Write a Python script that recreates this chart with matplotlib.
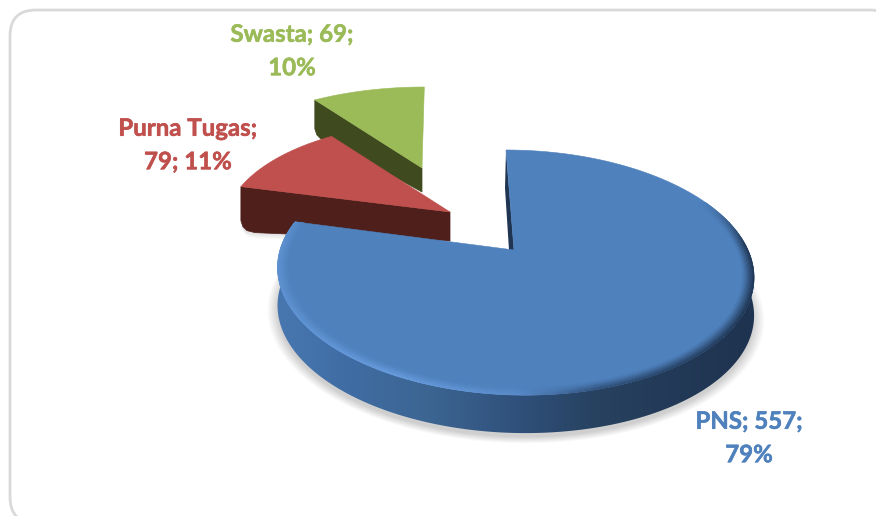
import numpy as np
import matplotlib
matplotlib.use('Agg')
import matplotlib.pyplot as plt
import matplotlib.patheffects as pe
from matplotlib.collections import PolyCollection
from matplotlib.colors import to_rgb
from matplotlib.patches import FancyBboxPatch, Polygon

categories = ['PNS', 'Purna Tugas', 'Swasta']
values = [557, 79, 69]
label_formats = ['{c}; {v};\n{p}%', '{c};\n{v}; {p}%', '{c}; {v};\n{p}%']

top_colors = ['#4f81bd', '#c0504d', '#9bbb59']
wall_colors = ['#1f3552', '#4e1f1b', '#3f4a1f']
# apex position, x scale, y scale, shear, inner depth, outer depth
placing = [(514, 250, 1.0, 1.0, 0.08, 38, 38),
           (450, 212, 0.955, 0.90, 0.08, 29, 45),
           (422, 168, 0.93, 0.81, -0.025, 24, 40)]
label_pos = [(749, 438), (188, 145), (292, 51)]

RX, A, B = 234, 118.4, 0.184

fig = plt.figure(figsize=(8.76, 5.16), dpi=100)
ax = fig.add_axes([0, 0, 1, 1])
ax.set_xlim(0, 876)
ax.set_ylim(516, 0)
ax.axis('off')

# chart frame runs off the right and bottom edge
ax.add_patch(FancyBboxPatch((10, 10), 886, 513, boxstyle='round,pad=0,rounding_size=26',
                            fc='white', ec='#d9d9d9', lw=2))


def project(theta, r, place):
    x0, y0, sx, sy, shear, _, _ = place
    u, v = r * np.sin(theta), r * np.cos(theta)
    den = 1 + B * v
    dy = -A * v / den
    dx = RX * u / den + shear * dy
    return x0 + sx * dx, y0 + sy * dy


def side_color(x):
    stops = [278, 350, 430, 520, 600, 750]
    cols = np.array([to_rgb(c) for c in ['#4877b0', '#3f6ca3', '#3c6591', '#2f507a',
                                         '#27415f', '#1e3350']])
    return np.array([np.interp(x, stops, cols[:, i]) for i in range(3)])


def rim_color(x):
    stops = [277, 400, 520, 600, 750]
    cols = np.array([to_rgb(c) for c in ['#5f92d2', '#6a9ee0', '#5a8ccb', '#2f4f78', '#1f3552']])
    return np.array([np.interp(x, stops, cols[:, i]) for i in range(3)])


fracs = np.cumsum([0] + values) / sum(values)
angles = fracs * 2 * np.pi

# soft shadow of the big slice
t = np.linspace(angles[0], angles[1], 200)
x, y = project(t, 1, placing[0])
xa, ya, depth = placing[0][0], placing[0][1], placing[0][6]
for k in range(8):
    s = 1.0 + 0.006 * k
    ax.add_patch(Polygon(np.c_[xa + (np.r_[xa, x] - xa) * s,
                               ya + depth + 4 + (np.r_[ya, y] - ya) * s],
                         fc='black', ec='none', alpha=0.022))

# back to front
for i in [2, 1, 0]:
    place = placing[i]
    xa, ya, _, _, _, d_in, d_out = place
    t = np.linspace(angles[i], angles[i + 1], 240)
    x, y = project(t, 1, place)

    if i > 0:
        # cut wall facing the viewer, outer corner rounded at the foot
        x1, y1 = project(angles[i], 1, place)
        wall = [(x1, y1), (xa, ya), (xa, ya + d_in), (x1 + 14, y1 + d_out + 1),
                (x1 + 6, y1 + d_out - 1), (x1 + 2, y1 + d_out - 5), (x1, y1 + d_out - 11)]
        if i == 1:
            for k in range(5):
                ax.add_patch(Polygon(np.array(wall) + (-1 + k * 0.5, 2 + k),
                                     fc='black', ec='none', alpha=0.02))
        ax.add_patch(Polygon(wall, fc=wall_colors[i], ec=wall_colors[i], lw=0.5))
    else:
        x2, y2 = project(angles[0], 1, place)
        ax.add_patch(Polygon([(x2, y2), (xa, ya), (xa - 5, ya), (x2 - 1, y2 + d_in)],
                             fc=wall_colors[0], ec='none'))
        # outer cylinder side, colour runs along x
        front = np.cos(t) < 0.35
        side = np.r_[np.c_[x[front], y[front]], np.c_[x[front], y[front] + d_out][::-1]]
        clip = Polygon(side, fc='none', ec='none', transform=ax.transData)
        ax.add_patch(clip)
        xs = np.linspace(270, 760, 400)
        grad = side_color(xs).T[np.newaxis, :, :]
        im = ax.imshow(grad, extent=(270, 760, 480, 200), aspect='auto', interpolation='bilinear', zorder=1)
        im.set_clip_path(clip)
        ax.set_xlim(0, 876)
        ax.set_ylim(516, 0)

    # flat top
    ax.add_patch(Polygon(np.c_[np.r_[xa, x], np.r_[ya, y]], fc=top_colors[i], ec=top_colors[i], lw=0.4, zorder=2))

    if i == 0:
        # bevel along the front rim
        radii = np.linspace(1, 0.955, 10)
        quads, cols = [], []
        top = np.array(to_rgb(top_colors[0]))
        for k in range(len(radii) - 1):
            xo, yo = project(t, radii[k], place)
            xi, yi = project(t, radii[k + 1], place)
            blend = k / (len(radii) - 1)
            for j in range(len(t) - 1):
                w = np.clip((0.45 - np.cos(t[j])) / 0.4, 0, 1) * (1 - blend)
                if w <= 0:
                    continue
                quads.append([(xo[j], yo[j]), (xo[j + 1], yo[j + 1]), (xi[j + 1], yi[j + 1]), (xi[j], yi[j])])
                cols.append(top * (1 - w) + rim_color(xo[j]) * w)
        ax.add_collection(PolyCollection(quads, facecolors=cols, edgecolors=cols, linewidths=0.4, zorder=3))

# data labels
for i, cat in enumerate(categories):
    pct = round(100 * values[i] / sum(values))
    txt = label_formats[i].format(c=cat, v=values[i], p=pct)
    ax.text(label_pos[i][0], label_pos[i][1], txt, color=top_colors[i], family='Lato',
            weight='bold', fontsize=17.3, ha='center', va='center', linespacing=1.55, zorder=5,
            path_effects=[pe.withStroke(linewidth=0.4, foreground=top_colors[i])])

fig.savefig('out.png', dpi=100)
